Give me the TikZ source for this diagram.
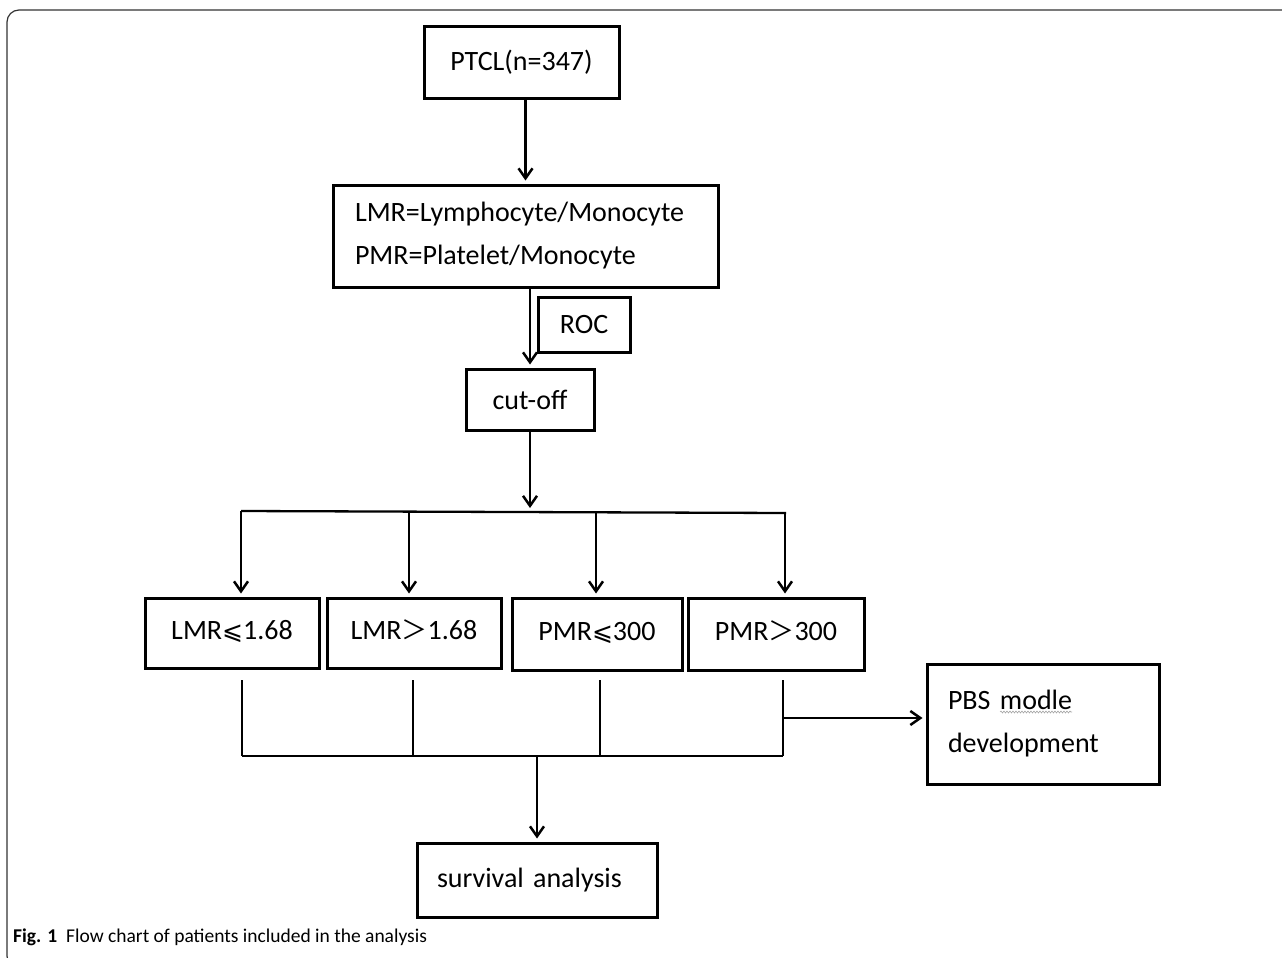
\documentclass[tikz,border=0pt]{standalone}
\usepackage{fontspec}
\setmainfont{Carlito}
\newfontfamily\cjkf{Noto Sans CJK SC}
\newfontfamily\djv{DejaVu Sans}
\usetikzlibrary{arrows.meta,decorations.pathmorphing}
\begin{document}
\begin{tikzpicture}[x=1pt,y=-1pt,
  box/.style={draw=black,line width=3pt,inner sep=0pt,font=\fontsize{28}{43}\selectfont},
  lbox/.style={box,align=left},
  sbox/.style={box,text height=19pt,text depth=6pt},
  arr/.style={line width=2.3pt,-{Straight Barb[length=10pt,width=14pt,line width=2.5pt]},shorten >=3pt},
  ln/.style={line width=2.3pt},
  frame/.style={draw=black!80,line width=1.2pt,rounded corners=12pt}]
\useasboundingbox (0,0) rectangle (1282,958);
\draw[frame] (1290,10) -- (7,10) -- (7,968) -- (30,968);

\node[box,minimum width=195pt,minimum height=71pt] (ptcl) at (521.5,62.5) {PTCL(n=347)};
\node[lbox,text width=341pt,inner xsep=22pt,minimum height=102pt] (lmr) at (525.5,236)
  {LMR=Lymphocyte/Monocyte\\PMR=Platelet/Monocyte};
\node[box,minimum width=92pt,minimum height=55pt] (roc) at (584,324.5) {ROC};
\node[box,minimum width=128pt,minimum height=61pt] (cut) at (530,399.5) {cut-off};

\node[sbox,minimum width=174pt,minimum height=70pt] (b1) at (232,633) {LMR{\djv\fontsize{25}{28}\selectfont ⩽}1.68};
\node[sbox,minimum width=174pt,minimum height=70pt] (b2) at (414,633) {LMR{\cjkf\fontsize{26}{28}\selectfont ＞}1.68};
\node[sbox,minimum width=170pt,minimum height=72pt] (b3) at (597,634) {PMR{\djv\fontsize{25}{28}\selectfont ⩽}300};
\node[sbox,minimum width=176pt,minimum height=72pt] (b4) at (776,634) {PMR{\cjkf\fontsize{26}{28}\selectfont ＞}300};

\node[lbox,text width=190pt,inner xsep=21pt,minimum height=120pt] (pbs) at (1043,724)
  {PBS modle\\development};
\node[lbox,text width=200pt,inner xsep=20pt,minimum height=74pt] (surv) at (537,880) {survival analysis};

\draw[gray!70,line width=0.6pt,decorate,decoration={snake,amplitude=1pt,segment length=3pt}] (1000,712) -- (1072,712);

% top connectors
\draw[arr] (lmr.north |- ptcl.south) -- (lmr.north);
\draw[arr] (cut.north |- lmr.south) -- (cut.north);
\coordinate (bl) at (241,511);
\coordinate (br) at (786,513);
\draw[arr] (cut.south) -- (cut.south |- bl);
\draw[ln] (bl) -- (br);
\coordinate (t1) at (241,511);
\coordinate (t2) at (409,512);
\coordinate (t3) at (596,512);
\coordinate (t4) at (785,513);
\draw[arr] (t1) -- (t1 |- b1.north);
\draw[arr] (t2) -- (t2 |- b2.north);
\draw[arr] (t3) -- (t3 |- b3.north);
\draw[arr] (t4) -- (t4 |- b4.north);

% bottom connectors
\coordinate (u1) at (242,680);
\coordinate (u2) at (413,680);
\coordinate (u3) at (600,680);
\coordinate (u4) at (783,680);
\coordinate (m) at (0,756);
\draw[ln] (u1) -- (u1 |- m);
\draw[ln] (u2) -- (u2 |- m);
\draw[ln] (u3) -- (u3 |- m);
\draw[ln] (u4) -- (u4 |- m);
\draw[ln] (u1 |- m) -- (u4 |- m);
\draw[arr] (surv.north |- m) -- (surv.north);
\coordinate (j) at (783,718);
\draw[arr] (j) -- (j -| pbs.west);

\node[anchor=base west,inner sep=0pt,font=\fontsize{19.5}{22}\selectfont] (cap) at (13,942)
  {\textbf{Fig. 1}\hspace{9pt}Flow chart of patients included in the analysis};
\end{tikzpicture}
\end{document}
